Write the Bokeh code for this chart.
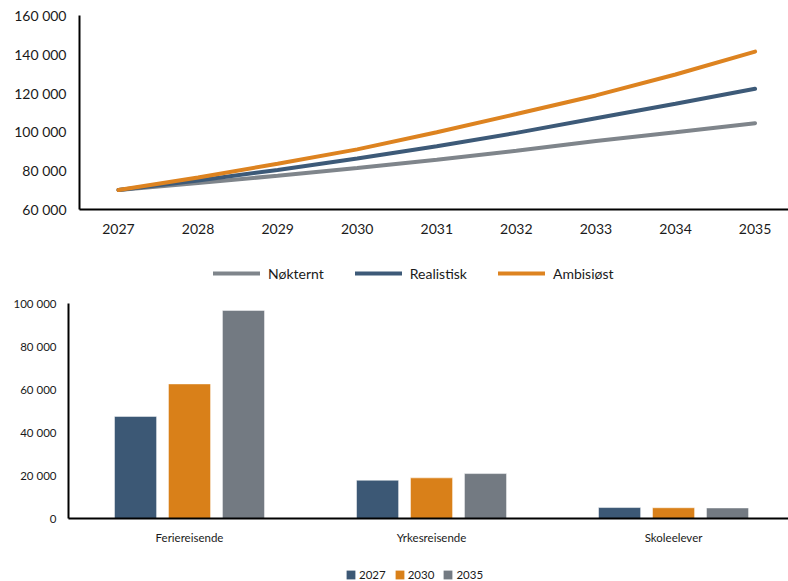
from bokeh.plotting import figure
from bokeh.models import (Range1d, FixedTicker, CustomJSTickFormatter, Legend,
                          LegendItem, ColumnDataSource)
from bokeh.transform import dodge
from bokeh.embed import file_html
from bokeh.resources import INLINE

# ---------------- data ----------------
years = [2027, 2028, 2029, 2030, 2031, 2032, 2033, 2034, 2035]
noktern = [70000, 73700, 77400, 81400, 85600, 90300, 95300, 99800, 104500]
realistisk = [70000, 75000, 80400, 86300, 92600, 99500, 107000, 114500, 122200]
ambisiost = [70000, 76500, 83600, 91000, 99800, 109200, 118800, 129600, 141400]
line_names = ["Nøkternt", "Realistisk", "Ambisiøst"]
y1_ticks = [60000, 80000, 100000, 120000, 140000, 160000]

groups = ["Feriereisende", "Yrkesreisende", "Skoleelever"]
v2027 = [47500, 17800, 5100]
v2030 = [62600, 18900, 5000]
v2035 = [96800, 20900, 4900]
bar_years = ["2027", "2030", "2035"]
y2_ticks = [0, 20000, 40000, 60000, 80000, 100000]

# ---------------- style ----------------
FONT = "Lato"
TXT = "#1a1a1a"
line_colors = ["#7F858B", "#3D5A78", "#DD8320"]
bar_colors = ["#3C5875", "#D98019", "#737A82"]

fmt = CustomJSTickFormatter(code="""
return Math.round(tick).toString().replace(/\\B(?=(\\d{3})+(?!\\d))/g, ' ');
""")


def style(p, fs):
    p.xgrid.visible = False
    p.ygrid.visible = False
    p.outline_line_color = None
    p.background_fill_color = "white"
    p.border_fill_color = "white"
    for ax in (p.xaxis[0], p.yaxis[0]):
        ax.axis_line_color = "black"
        ax.axis_line_width = 2
        ax.major_tick_line_color = None
        ax.minor_tick_line_color = None
        ax.major_tick_in = 0
        ax.major_tick_out = 0
        ax.major_label_text_font = FONT
        ax.major_label_text_font_size = fs
        ax.major_label_text_color = TXT


def legend_fig(height):
    f = figure(width=788, height=height, output_backend="svg", toolbar_location=None,
               x_axis_location=None, y_axis_location=None,
               x_range=Range1d(0, 1), y_range=Range1d(0, 1),
               min_border=0, min_border_left=0, min_border_right=0,
               min_border_top=0, min_border_bottom=0)
    f.xgrid.visible = False
    f.ygrid.visible = False
    f.outline_line_color = None
    f.background_fill_color = "white"
    f.border_fill_color = "white"
    return f


# ---------------- top: line chart ----------------
src = ColumnDataSource(dict(x=years, n=noktern, r=realistisk, a=ambisiost))
p1 = figure(width=788, height=250, output_backend="svg", toolbar_location=None,
            x_range=Range1d(2026.51, 2035.42), y_range=Range1d(60000, 160000),
            min_border_left=79, min_border_right=0, min_border_top=15,
            min_border_bottom=41)
style(p1, "14px")
p1.xaxis[0].ticker = FixedTicker(ticks=years)
p1.xaxis[0].major_label_standoff = 14
p1.yaxis[0].ticker = FixedTicker(ticks=y1_ticks)
p1.yaxis[0].formatter = fmt
p1.yaxis[0].major_label_standoff = 13

for col, c in zip(["n", "r", "a"], line_colors):
    p1.line("x", col, source=src, line_color=c, line_width=4, line_cap="round")

# legend strip for the line chart (hidden proxies carry the legend glyph styles)
l1 = legend_fig(46)
proxies1 = [l1.line("x", col, source=src, line_color=c, line_width=4,
                    line_cap="round", visible=False)
            for col, c in zip(["n", "r", "a"], line_colors)]
leg1 = Legend(items=[LegendItem(label=nm, renderers=[r]) for nm, r in zip(line_names, proxies1)],
              orientation="horizontal", location=(213, 13),
              glyph_width=47, glyph_height=20, label_standoff=8, spacing=31,
              padding=0, margin=0, border_line_color=None, background_fill_alpha=0,
              label_text_font=FONT, label_text_font_size="14px", label_text_color=TXT)
l1.add_layout(leg1, "center")

# ---------------- bottom: grouped bars ----------------
xs = list(range(len(groups)))
bsrc = ColumnDataSource(dict(x=xs, a=v2027, b=v2030, c=v2035))
p2 = figure(width=788, height=252, output_backend="svg", toolbar_location=None,
            x_range=Range1d(-0.5, 2.475), y_range=Range1d(0, 100000),
            min_border_left=68, min_border_right=0, min_border_top=7,
            min_border_bottom=30)
style(p2, "11.5px")
p2.xaxis[0].ticker = FixedTicker(ticks=xs)
p2.xaxis[0].major_label_overrides = {i: g for i, g in enumerate(groups)}
p2.xaxis[0].major_label_standoff = 12
p2.yaxis[0].ticker = FixedTicker(ticks=y2_ticks)
p2.yaxis[0].formatter = fmt
p2.yaxis[0].major_label_standoff = 12

bw = 0.174
offs = [-0.223, 0.0, 0.223]
for col, c, o in zip(["a", "b", "c"], bar_colors, offs):
    p2.vbar(x=dodge("x", o), top=col, width=bw, source=bsrc,
            fill_color=c, line_color="white", line_alpha=0.5, line_width=1)

l2 = legend_fig(33)
proxies2 = [l2.vbar(x="x", top=col, width=bw, source=bsrc, fill_color=c,
                    line_color=None, visible=False)
            for col, c in zip(["a", "b", "c"], bar_colors)]
leg2 = Legend(items=[LegendItem(label=y, renderers=[r]) for y, r in zip(bar_years, proxies2)],
              orientation="horizontal", location=(345, 0),
              glyph_width=11, glyph_height=11, label_standoff=3, spacing=8,
              padding=0, margin=0, border_line_color=None, background_fill_alpha=0,
              label_text_font=FONT, label_text_font_size="11.5px", label_text_color=TXT)
l2.add_layout(leg2, "center")

open("out.html", "w").write(file_html([p1, l1, p2, l2], INLINE))
